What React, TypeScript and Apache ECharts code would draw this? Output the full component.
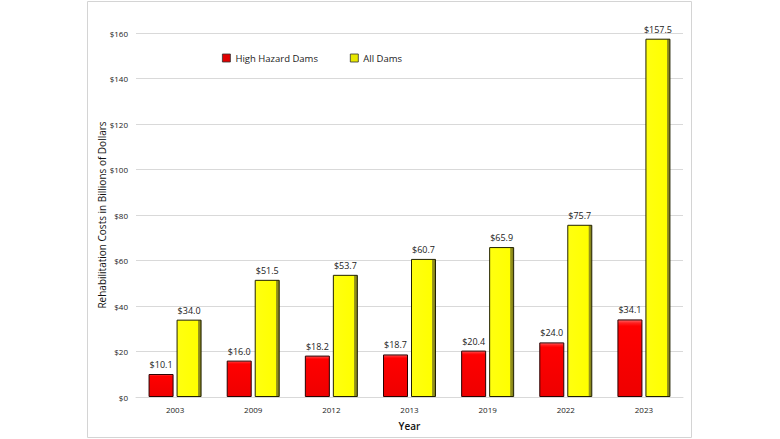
import React, { useEffect, useRef } from "react";
import * as echarts from "echarts";

const years = ["2003", "2009", "2012", "2013", "2019", "2022", "2023"];
const highHazard = [10.1, 16.0, 18.2, 18.7, 20.4, 24.0, 34.1];
const allDams = [34.0, 51.5, 53.7, 60.7, 65.9, 75.7, 157.5];
const yTicks = { min: 0, max: 160, interval: 20 };

const FONT = "'Open Sans', 'Noto Sans', sans-serif";

export default function App() {
  const ref = useRef<HTMLDivElement>(null);

  useEffect(() => {
    if (!ref.current) return;
    const chart = echarts.init(ref.current, undefined, { renderer: "svg" });

    const redFill = new echarts.graphic.LinearGradient(0, 0, 0, 1, [
      { offset: 0, color: "#ff6a6a" },
      { offset: 0.04, color: "#ff2020" },
      { offset: 0.08, color: "#ff0000" },
      { offset: 1, color: "#ee0000" },
    ]);
    const yellowFill = new echarts.graphic.LinearGradient(0, 0, 1, 0, [
      { offset: 0, color: "#ffff10" },
      { offset: 0.86, color: "#ffff00" },
      { offset: 0.87, color: "#9c9a1c" },
      { offset: 1, color: "#7c7a18" },
    ]);

    const label = {
      show: true,
      position: "top" as const,
      distance: 5,
      fontFamily: FONT,
      fontSize: 9,
      color: "#222",
      formatter: (p: any) => "$" + Number(p.value).toFixed(1),
    };

    chart.setOption({
      animation: false,
      backgroundColor: "#ffffff",
      graphic: [
        {
          type: "rect",
          shape: { x: 87.5, y: 1.5, width: 604, height: 436 },
          style: { fill: "none", stroke: "#d4d4d4", lineWidth: 1 },
          silent: true,
          z: -1,
        },
      ],
      legend: {
        left: 217,
        top: 48,
        itemWidth: 8,
        itemHeight: 8,
        itemGap: 32,
        icon: "rect",
        textStyle: { fontFamily: FONT, fontSize: 9.5, color: "#222" },
        data: [
          { name: "High Hazard Dams", itemStyle: { color: "#e00000", borderColor: "#333", borderWidth: 0.8 } },
          { name: "All Dams", itemStyle: { color: "#e8e800", borderColor: "#333", borderWidth: 0.8 } },
        ],
      },
      grid: { left: 136, right: 97, top: 33, bottom: 42, containLabel: false },
      xAxis: {
        type: "category",
        data: years,
        name: "Year",
        nameLocation: "middle",
        nameGap: 24,
        nameMoveOverlap: false,
        nameTextStyle: { fontFamily: FONT, fontSize: 10, color: "#111", fontWeight: 600 },
        axisLine: { lineStyle: { color: "#d9d9d9" } },
        axisTick: { show: false },
        axisLabel: { fontFamily: FONT, fontSize: 8, color: "#222", margin: 8 },
      },
      yAxis: {
        type: "value",
        min: yTicks.min,
        max: yTicks.max,
        interval: yTicks.interval,
        name: "Rehabilitation Costs in Billions of Dollars",
        nameLocation: "middle",
        nameGap: 29,
        nameMoveOverlap: false,
        nameTextStyle: { fontFamily: FONT, fontSize: 10, color: "#111" },
        axisLine: { show: false },
        axisTick: { show: false },
        splitLine: { lineStyle: { color: "#d9d9d9" } },
        axisLabel: {
          fontFamily: FONT,
          fontSize: 8,
          color: "#222",
          margin: 8,
          formatter: (v: number) => "$" + v,
        },
      },
      series: [
        {
          name: "High Hazard Dams",
          type: "bar",
          data: highHazard,
          barWidth: 25,
          barGap: "12%",
          itemStyle: { color: redFill, borderColor: "#2a0000", borderWidth: 1 },
          label,
        },
        {
          name: "All Dams",
          type: "bar",
          data: allDams,
          barWidth: 25,
          itemStyle: { color: yellowFill, borderColor: "#222200", borderWidth: 1 },
          label,
        },
      ],
    });

    return () => chart.dispose();
  }, []);

  return (
    <div
      ref={ref}
      style={{ position: "fixed", left: 0, top: 0, width: 780, height: 439 }}
    />
  );
}
